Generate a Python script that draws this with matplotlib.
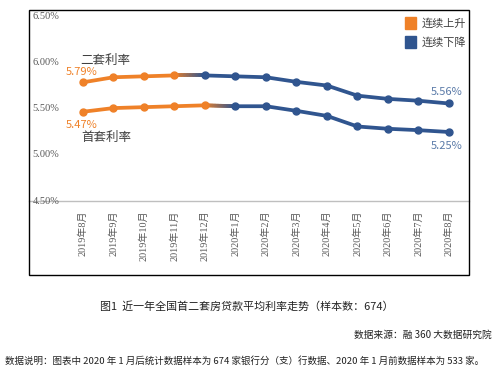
import numpy as np
import matplotlib.pyplot as plt
from matplotlib.collections import LineCollection
from matplotlib.patches import Rectangle

plt.rcParams['font.family'] = ['Noto Sans CJK SC', 'DejaVu Sans']

# data
months = ["2019年8月", "2019年9月", "2019年10月", "2019年11月", "2019年12月",
          "2020年1月", "2020年2月", "2020年3月", "2020年4月", "2020年5月",
          "2020年6月", "2020年7月", "2020年8月"]
second_rate = [5.79, 5.845, 5.855, 5.865, 5.865, 5.855, 5.845, 5.795, 5.755,
               5.645, 5.61, 5.59, 5.56]
first_rate = [5.47, 5.51, 5.52, 5.53, 5.54, 5.53, 5.53, 5.48, 5.425,
              5.31, 5.285, 5.27, 5.25]
second_peak = 3   # index where 二套 stops rising
first_peak = 4    # index where 首套 stops rising
yticks = [4.5, 5.0, 5.5, 6.0, 6.5]

ORANGE = "#EF8128"
BLUE = "#30558F"
GREY = "#595959"

fig = plt.figure(figsize=(5.04, 3.82), dpi=100)
W, H = 504, 382

# outer frame of the chart
fig.add_artist(Rectangle((29 / W, 1 - 275 / H), 440 / W, 265 / H,
                         transform=fig.transFigure, fill=False,
                         edgecolor="black", linewidth=1.0))

ax = fig.add_axes([29 / W, 1 - 201 / H, 440 / W, 191 / H])
ax.set_xlim(-1.77, 12.66)
ax.set_ylim(4.5, 6.576)
ax.patch.set_alpha(0)
for s in ["top", "right", "left"]:
    ax.spines[s].set_visible(False)
ax.spines["bottom"].set_color("#BFBFBF")
ax.spines["bottom"].set_linewidth(1.0)
ax.set_yticks([])

x = np.arange(len(months))
ax.set_xticks(x)
ax.set_xticklabels(months, rotation=90, fontsize=7.3, color=GREY,
                   family=['Liberation Serif', 'Noto Sans CJK SC'])
ax.tick_params(axis="x", length=0, pad=7)

for v in yticks:
    ax.text(0.008, v, f"{v:.2f}%", transform=ax.get_yaxis_transform(),
            fontsize=7.5, color=GREY, va="center", ha="left",
            family="Liberation Serif")


def draw_series(vals, peak):
    vals = np.asarray(vals)
    lw, ms = 2.7, 5
    ax.plot(x[:peak + 1], vals[:peak + 1], color=ORANGE, lw=lw,
            marker="o", ms=ms, zorder=3, solid_capstyle="round")
    ax.plot(x[peak + 1:], vals[peak + 1:], color=BLUE, lw=lw,
            marker="o", ms=ms, zorder=3, solid_capstyle="round")
    # gradient on the turning segment
    n = 20
    t = np.linspace(0, 1, n + 1)
    xs = x[peak] + t * (x[peak + 1] - x[peak])
    ys = vals[peak] + t * (vals[peak + 1] - vals[peak])
    segs = [[(xs[i], ys[i]), (xs[i + 1], ys[i + 1])] for i in range(n)]
    c0 = np.array(plt.matplotlib.colors.to_rgb(ORANGE))
    c1 = np.array(plt.matplotlib.colors.to_rgb(BLUE))
    cols = [c0 + (c1 - c0) * (i + 0.5) / n for i in range(n)]
    ax.add_collection(LineCollection(segs, colors=cols, linewidths=lw,
                                     zorder=2, capstyle="round"))


draw_series(second_rate, second_peak)
draw_series(first_rate, first_peak)

# annotations
ax.text(-0.1, 6.03, "二套利率", fontsize=9, color="#404040", va="center")
ax.text(-0.55, second_rate[0] + 0.11, f"{second_rate[0]:.2f}%",
        fontsize=8, color=ORANGE, va="center")
ax.text(-0.55, first_rate[0] - 0.14, f"{first_rate[0]:.2f}%",
        fontsize=8, color=ORANGE, va="center")
ax.text(-0.05, first_rate[0] - 0.28, "首套利率", fontsize=9,
        color="#404040", va="center")
ax.text(12.45, second_rate[-1] + 0.13, f"{second_rate[-1]:.2f}%",
        fontsize=8, color="#5A7AA8", va="center", ha="right")
ax.text(12.45, first_rate[-1] - 0.15, f"{first_rate[-1]:.2f}%",
        fontsize=8, color="#5A7AA8", va="center", ha="right")

# legend
for yy, col, lab in [(23, ORANGE, "连续上升"), (42, BLUE, "连续下降")]:
    fig.add_artist(Rectangle((405 / W, 1 - (yy + 6) / H), 11 / W, 12 / H,
                             transform=fig.transFigure, color=col))
    fig.text(422 / W, 1 - yy / H, lab, fontsize=8, color="#404040",
             va="center", ha="left")

# captions
fig.text(247 / W, 1 - 306 / H, "图1  近一年全国首二套房贷款平均利率走势（样本数：674）",
         fontsize=7.9, color="#222222", ha="center", va="center")
fig.text(492 / W, 1 - 335 / H, "数据来源：融 360 大数据研究院",
         fontsize=7, color="#222222", ha="right", va="center")
fig.text(5 / W, 1 - 361 / H,
         "数据说明：图表中 2020 年 1 月后统计数据样本为 674 家银行分（支）行数据、2020 年 1 月前数据样本为 533 家。",
         fontsize=6.85, color="#222222", ha="left", va="center")

fig.savefig("out.png", dpi=100)
